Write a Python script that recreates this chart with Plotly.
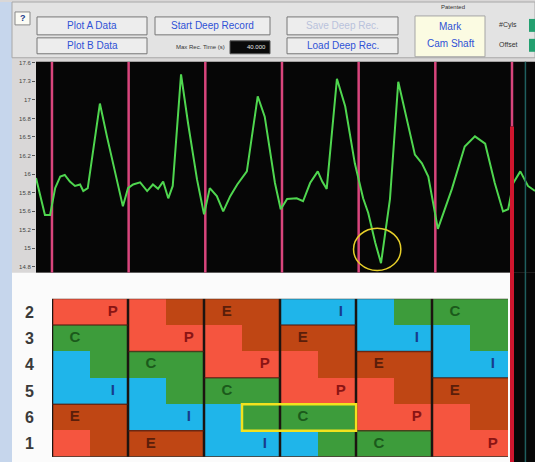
import numpy as np
import plotly.graph_objects as go

W, H = 535, 462

# ---------------- data ----------------
# crank angle (deg) and sensor signal of the upper trace
crank_deg = [-25, -11, -3, 5, 13, 20, 28, 36, 44, 49, 56, 75, 86, 99, 111, 119, 127, 138, 149, 158,
             166, 174, 182, 189, 202, 213, 227, 238, 247, 258, 268, 279, 290, 305, 322, 333, 349, 358,
             368, 383, 393, 404, 416, 423, 430, 446, 459, 474, 487, 495, 506, 515, 529, 542, 556, 568,
             579, 589, 604, 626, 646, 662, 678, 693, 706, 714, 722, 733, 745, 756]
signal = [16.02, 15.51, 15.51, 15.88, 16.04, 16.06, 15.97, 15.91, 15.93, 15.84, 15.88, 17.04, 16.59,
          16.08, 15.63, 15.88, 15.93, 15.96, 15.84, 15.93, 15.87, 15.97, 15.74, 15.91, 17.44, 16.77,
          16.00, 15.52, 15.88, 15.77, 15.56, 15.77, 15.93, 16.11, 17.14, 16.86, 15.95, 15.59, 15.73,
          15.74, 15.70, 15.95, 16.11, 15.97, 15.87, 17.38, 17.00, 16.22, 15.74, 15.54, 15.13, 14.85,
          15.73, 17.34, 16.82, 16.34, 16.22, 16.04, 15.32, 15.87, 16.45, 16.59, 16.49, 15.95, 15.56,
          15.59, 15.95, 16.11, 15.91, 15.84]

tdc_marks = [0, 120, 240, 360, 480, 600, 720]
ytick_text = ["14.8", "15", "15.2", "15.6", "15.8", "16", "16.2", "16.5", "16.8", "17", "17.3", "17.6"]

# stroke chart: cylinders in firing order, 12 half-steps each
cyl_labels = ["2", "3", "4", "5", "6", "1"]
strokes_cyl2 = list("PPPEEEIIICCC")
strokes_cyl3 = list("CCPPPEEEIIIC")
strokes_cyl4 = list("ICCCPPPEEEII")
strokes_cyl5 = list("IIICCCPPPEEE")
strokes_cyl6 = list("EEIIICCCPPPE")
strokes_cyl1 = list("PEEEIIICCCPP")
stroke_rows = [strokes_cyl2, strokes_cyl3, strokes_cyl4, strokes_cyl5, strokes_cyl6, strokes_cyl1]

stroke_code = {"P": 0, "E": 1, "C": 2, "I": 3}
stroke_fill = {"P": "#f5553f", "E": "#bf4614", "C": "#3d9c3b", "I": "#1fb5ea"}
stroke_text = {"P": "#8a1414", "E": "#5a1e0a", "C": "#1b5a1b", "I": "#163c8c"}

# ---------------- helpers ----------------
def px(x):
    return x / W

def py(y):
    return 1 - y / H

Y_RANGE = [14.718, 17.614]

fig = go.Figure()

# pink TDC lines drawn as shapes under the trace
shapes = []
for d in tdc_marks[:-1]:
    shapes.append(dict(type="line", xref="x", yref="y", x0=d, x1=d, y0=Y_RANGE[0], y1=Y_RANGE[1],
                       line=dict(color="#d8457c", width=2.5), layer="below"))
# last marker: pink top, red lower part
shapes.append(dict(type="line", xref="x", yref="y", x0=tdc_marks[-1], x1=tdc_marks[-1],
                   y0=17.6 - (125 - 61) * 2.8 / 205, y1=Y_RANGE[1],
                   line=dict(color="#d8457c", width=2.5), layer="below"))

# main trace
fig.add_trace(go.Scatter(x=crank_deg, y=signal, mode="lines",
                         line=dict(color="#4fd64f", width=2), xaxis="x", yaxis="y",
                         hoverinfo="skip"))

# stroke heatmap
z = [[stroke_code[s] for s in row] for row in stroke_rows]
cs = [[0, stroke_fill["P"]], [0.1667, stroke_fill["P"]],
      [0.1667, stroke_fill["E"]], [0.5, stroke_fill["E"]],
      [0.5, stroke_fill["C"]], [0.8333, stroke_fill["C"]],
      [0.8333, stroke_fill["I"]], [1, stroke_fill["I"]]]
fig.add_trace(go.Heatmap(z=z, x=list(range(12)), y=cyl_labels, colorscale=cs, zmin=0, zmax=3,
                         showscale=False, xaxis="x2", yaxis="y2", hoverinfo="skip"))

# stroke letters in the middle half of each stroke
lx, ly, lt, lc = [], [], [], []
for lab, row in zip(cyl_labels, stroke_rows):
    n = len(row)
    for i in range(n):
        if row[i - 1] == row[i] == row[(i + 1) % n]:
            lx.append(i + 0.1)
            ly.append(lab)
            lt.append("<b>" + row[i] + "</b>")
            lc.append(stroke_text[row[i]])
fig.add_trace(go.Scatter(x=lx, y=ly, mode="text", text=lt,
                         textfont=dict(color=lc, size=15, family="Liberation Sans"),
                         xaxis="x2", yaxis="y2", hoverinfo="skip"))

# ---------------- decorations ----------------
# window frame strip, top bar
shapes.append(dict(type="rect", xref="paper", yref="paper", x0=0, x1=px(12), y0=0, y1=1,
                   fillcolor="#c6d6ec", line=dict(width=0), layer="below"))
shapes.append(dict(type="rect", xref="paper", yref="paper", x0=px(12), x1=1, y0=py(56), y1=1,
                   fillcolor="#e3e3e3", line=dict(color="#a8a8a8", width=1), layer="below"))
# white panel behind the stroke chart
shapes.append(dict(type="rect", xref="paper", yref="paper", x0=px(12), x1=px(510), y0=0, y1=py(272),
                   fillcolor="#fbfbfb", line=dict(width=0), layer="below"))
# black continuation at right
shapes.append(dict(type="rect", xref="paper", yref="paper", x0=px(510), x1=1, y0=0, y1=py(272),
                   fillcolor="#070707", line=dict(width=0), layer="below"))
# red lower marker and teal line at right
shapes.append(dict(type="line", xref="x", yref="paper", x0=tdc_marks[-1], x1=tdc_marks[-1],
                   y0=0, y1=py(125), line=dict(color="#d0162e", width=4), layer="above"))
shapes.append(dict(type="line", xref="x", yref="paper", x0=741, x1=741,
                   y0=0, y1=py(60), line=dict(color="#1f5e5e", width=1.5), layer="above"))

# yellow circle around minimum
imin = int(np.argmin(signal))
cx, cy = crank_deg[imin] - 6, signal[imin] + 0.19
shapes.append(dict(type="circle", xref="x", yref="y", x0=cx - 37, x1=cx + 37, y0=cy - 0.29,
                   y1=cy + 0.29, line=dict(color="#e6cf2a", width=1.5), layer="above"))

# stroke chart separators
for b in [-0.5, 1.5, 3.5, 5.5, 7.5, 9.5]:
    shapes.append(dict(type="line", xref="x2", yref="y2", x0=b, x1=b, y0=-0.5, y1=5.5,
                       line=dict(color="#1c1410", width=2.5), layer="above"))
shapes.append(dict(type="line", xref="x2", yref="y2", x0=-0.5, x1=11.5, y0=-0.5, y1=-0.5,
                   line=dict(color="#3a2a20", width=1), layer="above"))
shapes.append(dict(type="line", xref="x2", yref="y2", x0=-0.5, x1=11.5, y0=5.5, y1=5.5,
                   line=dict(color="#3a2a20", width=1.5), layer="above"))
seg_cols = [0, 0, 1, 1, 2, 3, 3, 4, 4, 5]
seg_rows = [0, 3, 1, 4, 2, 0, 3, 1, 4, 2]
for c, r in zip(seg_cols, seg_rows):
    shapes.append(dict(type="line", xref="x2", yref="y2", x0=2 * c - 0.5, x1=2 * c + 1.5,
                       y0=r + 0.5, y1=r + 0.5, line=dict(color="#4a1a10", width=1.5),
                       opacity=0.7, layer="above"))
# yellow highlight box (compression stroke of cylinder 6)
row6 = stroke_rows[cyl_labels.index("6")]
c_idx = [i for i, s in enumerate(row6) if s == "C"]
ri = cyl_labels.index("6")
shapes.append(dict(type="rect", xref="x2", yref="y2", x0=min(c_idx) - 0.5, x1=max(c_idx) + 0.5,
                   y0=ri - 0.5, y1=ri + 0.5, line=dict(color="#f2e21e", width=2.5), layer="above"))

annotations = []

def note(x, y, text, size, color, xanchor="center"):
    annotations.append(dict(x=px(x), y=py(y), xref="paper", yref="paper", text=text,
                            xanchor=xanchor, yanchor="middle", showarrow=False,
                            font=dict(size=size, color=color, family="Liberation Sans")))

# buttons
buttons = [
    ("Plot A Data", 37, 147, 15, 33, "#2f52d6"),
    ("Plot B Data", 37, 147, 36, 52, "#2f52d6"),
    ("Start Deep Record", 155, 270, 15, 33, "#2f52d6"),
    ("Save Deep Rec.", 287, 398, 15, 33, "#b9c2dc"),
    ("Load Deep Rec.", 287, 398, 36, 52, "#2f52d6"),
]
for lab, x0, x1, y0, y1, col in buttons:
    shapes.append(dict(type="rect", xref="paper", yref="paper", x0=px(x0), x1=px(x1), y0=py(y1),
                       y1=py(y0), fillcolor="#ededed", line=dict(color="#767676", width=1),
                       layer="below"))
    note((x0 + x1) / 2, (y0 + y1) / 2, lab, 10, col)
# ? box
shapes.append(dict(type="rect", xref="paper", yref="paper", x0=px(15), x1=px(30), y0=py(23),
                   y1=py(10), fillcolor="#fbfbf4", line=dict(color="#8a8a8a", width=1), layer="below"))
note(22.5, 16.5, "<b>?</b>", 9, "#223a8a")
# max rec time
note(227, 45, "Max Rec. Time (s)", 6, "#333", "right")
shapes.append(dict(type="rect", xref="paper", yref="paper", x0=px(230), x1=px(270), y0=py(52),
                   y1=py(39), fillcolor="#0a0a0a", line=dict(color="#555", width=1), layer="below"))
note(268, 45.5, "40.000", 6, "#e8e8e8", "right")
# mark cam shaft
note(453, 5, "Patented", 6, "#333")
shapes.append(dict(type="rect", xref="paper", yref="paper", x0=px(415), x1=px(485), y0=py(55),
                   y1=py(14), fillcolor="#fbfbe2", line=dict(color="#a5a5a5", width=1), layer="below"))
note(450, 25, "Mark", 10, "#2f52d6")
note(450, 42, "Cam Shaft", 10, "#2f52d6")
note(508, 23, "#Cyls", 7, "#333")
note(508, 43, "Offset", 7, "#333")
for y0, y1 in [(17, 30), (37, 50)]:
    shapes.append(dict(type="rect", xref="paper", yref="paper", x0=px(529), x1=1, y0=py(y1),
                       y1=py(y0), fillcolor="#23a070", line=dict(width=0), layer="below"))

fig.update_layout(
    width=W, height=H, margin=dict(l=0, r=0, t=0, b=0),
    paper_bgcolor="#d9d7d7", plot_bgcolor="#060606", showlegend=False,
    font=dict(family="Liberation Sans"),
    xaxis=dict(domain=[px(36), 1], range=[-25, 756], showticklabels=False, showgrid=False,
               zeroline=False, ticks="", anchor="y"),
    yaxis=dict(domain=[py(272), py(60)], range=Y_RANGE, tickvals=np.linspace(14.8, 17.6, 12),
               ticktext=ytick_text, ticks="outside", ticklen=3, tickcolor="#555",
               tickfont=dict(size=6, color="#444"), showgrid=False, zeroline=False, anchor="x"),
    xaxis2=dict(domain=[px(52), px(508)], range=[-0.5, 11.5], showticklabels=False, showgrid=False,
                zeroline=False, ticks="", anchor="y2"),
    yaxis2=dict(domain=[py(457), py(298)], type="category", categoryorder="array",
                categoryarray=cyl_labels, range=[5.5, -0.5], tickvals=cyl_labels,
                ticktext=["<b>" + c + "</b>" for c in cyl_labels], ticks="outside", ticklen=14,
                tickcolor="rgba(0,0,0,0)", tickfont=dict(size=16, color="#3a3a3a"),
                showgrid=False, zeroline=False, anchor="x2"),
    shapes=shapes, annotations=annotations,
)

fig.write_html("out.html", post_script="document.body.style.margin='0';",
               config={"displayModeBar": False})
